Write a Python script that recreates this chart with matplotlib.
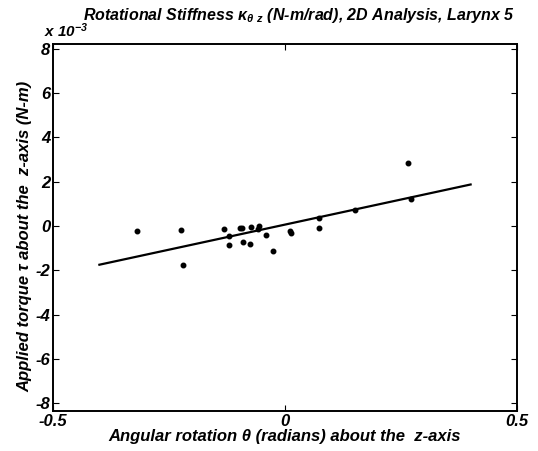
import matplotlib
matplotlib.use("Agg")
import matplotlib.pyplot as plt

# data (torque in units of 1e-3 N-m)
theta = [-0.320, -0.225, -0.219, -0.132, -0.121, -0.121, -0.098, -0.092, -0.091, -0.075, -0.073,
         -0.055, -0.058, -0.041, -0.025, 0.011, 0.012, 0.073, 0.073, 0.150, 0.264, 0.272]
torque = [-0.25, -0.17, -1.75, -0.14, -0.44, -0.86, -0.10, -0.10, -0.74, -0.80, -0.07,
          -0.02, -0.14, -0.43, -1.14, -0.22, -0.32, -0.08, 0.34, 0.70, 2.86, 1.23]
fit_theta = [-0.40, 0.40]
fit_torque = [-1.75, 1.87]
yticks = [-8, -6, -4, -2, 0, 2, 4, 6, 8]
xticks = [-0.5, 0, 0.5]

plt.rcParams['font.family'] = ['Liberation Sans', 'DejaVu Sans']
plt.rcParams['font.style'] = 'italic'
plt.rcParams['font.weight'] = 'bold'
plt.rcParams['axes.labelweight'] = 'bold'
plt.rcParams['axes.unicode_minus'] = False
plt.rcParams['mathtext.fontset'] = 'custom'
plt.rcParams['mathtext.it'] = 'Liberation Sans:italic:bold'
plt.rcParams['mathtext.rm'] = 'Liberation Sans:italic:bold'

fig = plt.figure(figsize=(5.38, 4.51), dpi=100)
ax = fig.add_axes([0.0985, 0.0887, 0.8625, 0.8133])

ax.plot(theta, torque, 'k.', markersize=6.5)
ax.plot(fit_theta, fit_torque, 'k-', linewidth=1.6)

ax.set_xlim(-0.5, 0.5)
ax.set_ylim(-8.35, 8.2)
ax.set_xticks(xticks)
ax.set_xticklabels(['-0.5', '0', '0.5'])
ax.set_yticks(yticks)
ax.tick_params(direction='in', top=True, right=True, length=4, labelsize=12, pad=2)
for lab in ax.get_xticklabels() + ax.get_yticklabels():
    lab.set_fontstyle('italic')
    lab.set_fontweight('bold')
for s in ax.spines.values():
    s.set_linewidth(1.4)

ax.set_xlabel('Angular rotation \u03b8 (radians) about the  z-axis', fontsize=12, labelpad=0)
ax.set_ylabel('Applied torque \u03c4 about the  z-axis (N-m)', fontsize=12)
ax.yaxis.set_label_coords(-0.045, 0.475)
fig.text(0.555, 0.965, 'Rotational Stiffness \u03ba$_{\u03b8\\ z}$ (N-m/rad), 2D Analysis, Larynx 5',
         ha='center', va='center', fontsize=11.5)
fig.text(0.082, 0.912, 'x 10$^{-3}$', ha='left', va='bottom', fontsize=11)

fig.savefig('out.png', dpi=100)
